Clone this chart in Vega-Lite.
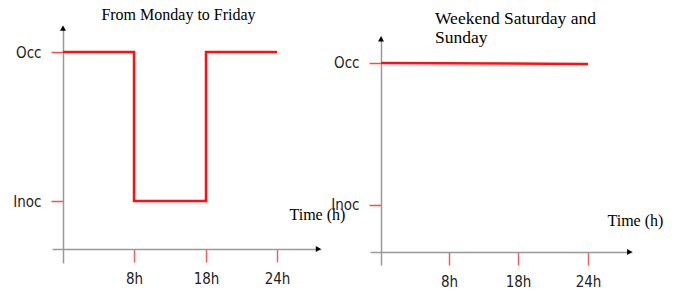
{
  "$schema": "https://vega.github.io/schema/vega-lite/v6.json",
  "padding": {"left": 12, "top": 6, "right": 5, "bottom": 5},
  "background": "white",
  "config": {"view": {"stroke": null}},
  "datasets": {
    "weekday": [
      {"hour": 0, "state": 1},
      {"hour": 8, "state": 0},
      {"hour": 18, "state": 1},
      {"hour": 24, "state": 1}
    ],
    "weekend": [
      {"hour": 0, "state": 1},
      {"hour": 24, "state": 0.993}
    ],
    "anchor": [{"k": 1}]
  },
  "hconcat": [
    {
      "width": 269,
      "height": 237,
      "title": {"text": "From Monday to Friday", "font": "Liberation Serif", "fontSize": 16, "fontWeight": "normal", "color": "black", "anchor": "middle", "dx": -8, "offset": 3},
      "layer": [
        {
          "data": {"name": "weekday"},
          "mark": {"type": "line", "interpolate": "step-after", "color": "#ff1010", "strokeWidth": 2.5},
          "encoding": {
            "x": {
              "field": "hour", "type": "quantitative",
              "scale": {"domain": [-1.24, 0, 8, 18, 24, 27.72], "range": [0, 11, 82, 154, 225, 269], "nice": false, "zero": false},
              "axis": {
                "orient": "bottom", "offset": -14, "values": [8, 18, 24], "labelExpr": "datum.value + 'h'",
                "grid": false, "domainColor": "#999999", "domainWidth": 1.5,
                "tickColor": "#f06060", "tickSize": 13, "tickWidth": 1.5,
                "labelPadding": 9, "labelFont": "'Liberation Sans Narrow', 'DejaVu Sans Condensed', 'Roboto Condensed', Roboto, sans-serif", "labelFontSize": 15, "labelColor": "#222222",
                "title": "Time (h)", "titleX": 237, "titleY": -35, "titleAlign": "left", "titleBaseline": "middle",
                "titleFont": "Liberation Serif", "titleFontSize": 16, "titleFontWeight": "normal", "titleColor": "black"
              }
            },
            "y": {
              "field": "state", "type": "quantitative",
              "scale": {"domain": [-0.416, 1.1745], "nice": false, "zero": false},
              "axis": {
                "orient": "left", "offset": -11, "values": [0, 1], "labelExpr": "datum.value == 1 ? 'Occ' : 'Inoc'",
                "grid": false, "domainColor": "#999999", "domainWidth": 1.5,
                "tickColor": "#f05050", "tickSize": 12, "tickWidth": 1.5,
                "labelPadding": 10, "labelFont": "'Liberation Sans Narrow', 'DejaVu Sans Condensed', 'Roboto Condensed', Roboto, sans-serif", "labelFontSize": 15, "labelColor": "#222222",
                "title": null
              }
            }
          }
        },
        {
          "data": {"name": "anchor"},
          "mark": {"type": "point", "shape": "triangle-up", "filled": true, "color": "black", "size": 35, "opacity": 1},
          "encoding": {"x": {"datum": 0, "type": "quantitative"}, "y": {"datum": 1.16, "type": "quantitative"}}
        },
        {
          "data": {"name": "anchor"},
          "mark": {"type": "point", "shape": "triangle-right", "filled": true, "color": "black", "size": 35, "opacity": 1},
          "encoding": {"x": {"datum": 27.5, "type": "quantitative"}, "y": {"datum": -0.322, "type": "quantitative"}}
        }
      ]
    },
    {
      "width": 262,
      "height": 239,
      "title": {"text": ["Weekend Saturday and", "Sunday"], "font": "Liberation Serif", "fontSize": 17.5, "fontWeight": "normal", "color": "black", "anchor": "start", "frame": "group", "dx": 65, "offset": -20, "lineHeight": 19},
      "layer": [
        {
          "data": {"name": "weekend"},
          "mark": {"type": "line", "color": "#ff1010", "strokeWidth": 2.5},
          "encoding": {
            "x": {
              "field": "hour", "type": "quantitative",
              "scale": {"domain": [-1.28, 0, 8, 18, 24, 27.8], "range": [0, 11, 79, 148, 218, 262], "nice": false, "zero": false},
              "axis": {
                "orient": "bottom", "offset": -13, "values": [8, 18, 24], "labelExpr": "datum.value + 'h'",
                "grid": false, "domainColor": "#999999", "domainWidth": 1.5,
                "tickColor": "#f06060", "tickSize": 13, "tickWidth": 1.5,
                "labelPadding": 9, "labelFont": "'Liberation Sans Narrow', 'DejaVu Sans Condensed', 'Roboto Condensed', Roboto, sans-serif", "labelFontSize": 15, "labelColor": "#222222",
                "title": "Time (h)", "titleX": 237, "titleY": -32, "titleAlign": "left", "titleBaseline": "middle",
                "titleFont": "Liberation Serif", "titleFontSize": 16, "titleFontWeight": "normal", "titleColor": "black"
              }
            },
            "y": {
              "field": "state", "type": "quantitative",
              "scale": {"domain": [-0.4225, 1.19], "range": [239, 10], "nice": false, "zero": false},
              "axis": {
                "orient": "left", "offset": -11, "values": [0, 1], "labelExpr": "datum.value == 1 ? 'Occ' : 'Inoc'",
                "grid": false, "domainColor": "#999999", "domainWidth": 1.5,
                "tickColor": "#f05050", "tickSize": 12, "tickWidth": 1.5,
                "labelPadding": 10, "labelFont": "'Liberation Sans Narrow', 'DejaVu Sans Condensed', 'Roboto Condensed', Roboto, sans-serif", "labelFontSize": 15, "labelColor": "#222222",
                "title": null
              }
            }
          }
        },
        {
          "data": {"name": "anchor"},
          "mark": {"type": "point", "shape": "triangle-up", "filled": true, "color": "black", "size": 35, "opacity": 1},
          "encoding": {"x": {"datum": 0, "type": "quantitative"}, "y": {"datum": 1.17, "type": "quantitative"}}
        },
        {
          "data": {"name": "anchor"},
          "mark": {"type": "point", "shape": "triangle-right", "filled": true, "color": "black", "size": 35, "opacity": 1},
          "encoding": {"x": {"datum": 27.6, "type": "quantitative"}, "y": {"datum": -0.331, "type": "quantitative"}}
        }
      ]
    }
  ],
  "spacing": 49,
  "bounds": "flush"
}
